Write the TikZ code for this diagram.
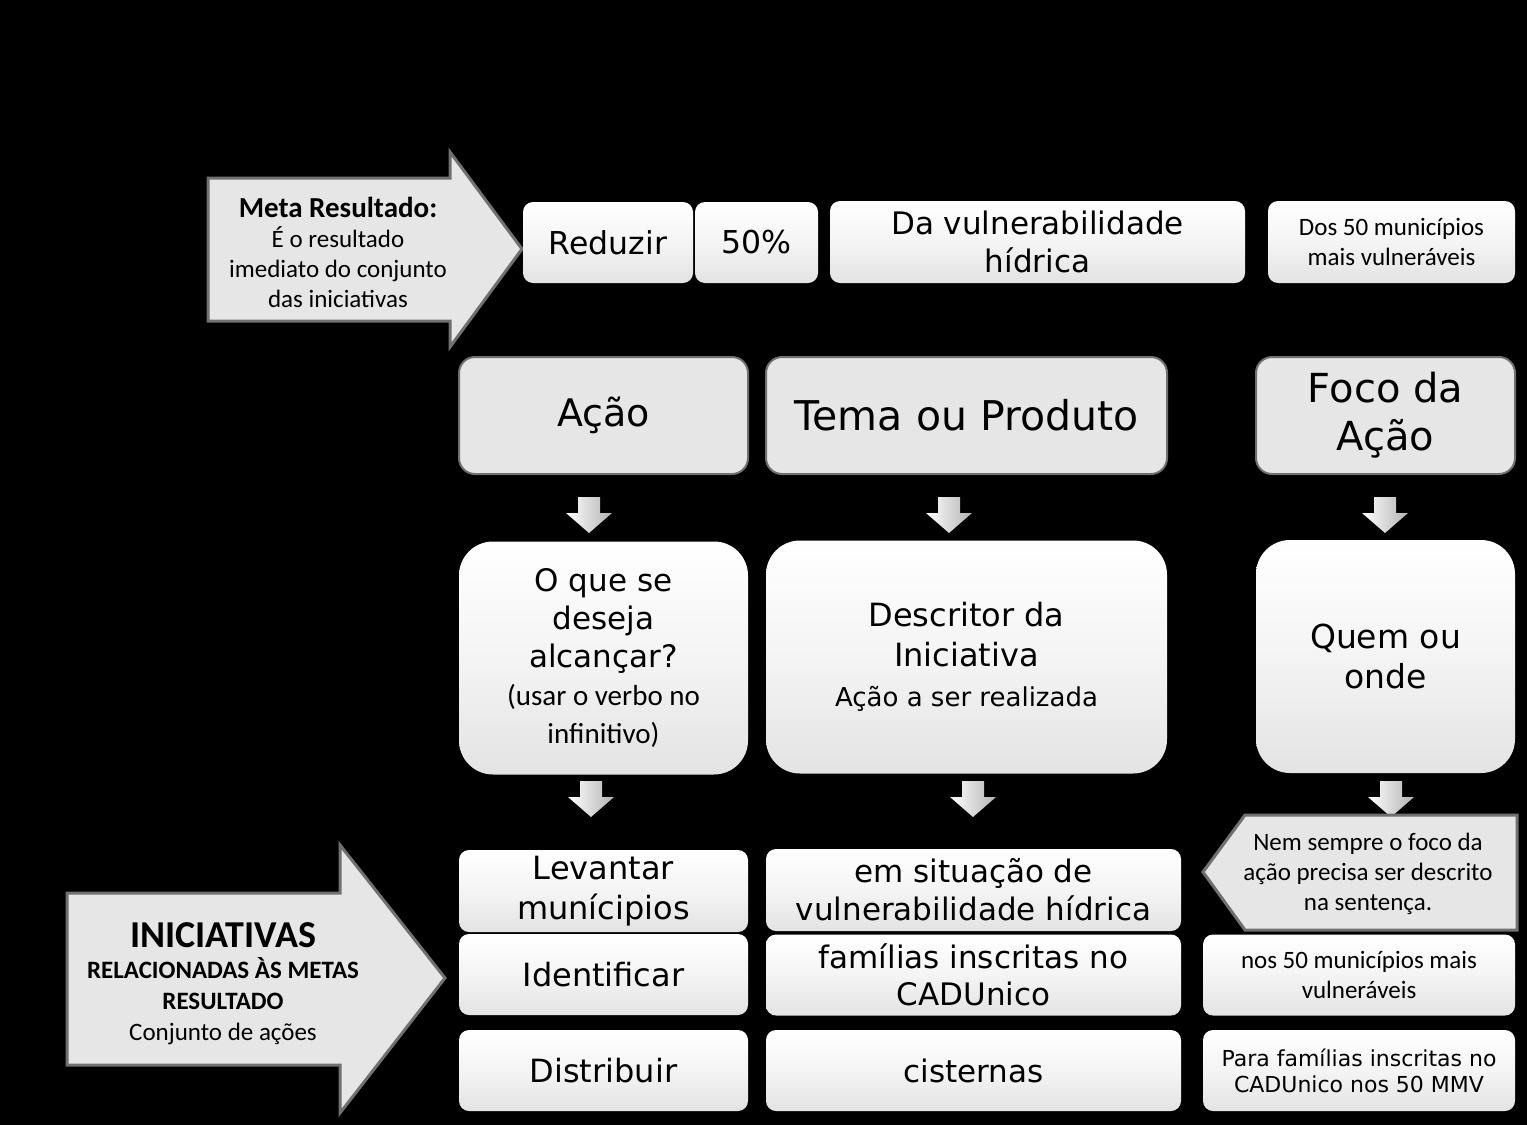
\documentclass[tikz,border=0pt]{standalone}
\usepackage{fontspec}
\setmainfont{DejaVu Sans}
\newfontfamily\calibri{Carlito}
\usetikzlibrary{positioning, calc}

\definecolor{boxfill}{HTML}{F4F4F4}
\definecolor{headfill}{HTML}{E6E6E6}
\definecolor{edgegray}{HTML}{707070}

\tikzset{
    cell/.style={rounded corners=5pt, top color=white, bottom color=black!11, middle color=boxfill,
        inner sep=2pt, align=center, text=black},
    bigcell/.style={cell, rounded corners=17pt},
    headcell/.style={rounded corners=8pt, fill=headfill, draw=edgegray, line width=1pt,
        inner sep=2pt, align=center},
    blockarrow/.style={fill=headfill, draw=edgegray, line width=1.5pt, line join=miter},
    downarrow/.style={left color=white, right color=black!30, draw=none},
}

\begin{document}
\begin{tikzpicture}[x=0.5pt, y=-0.5pt]
    % Fundo
    \fill[black] (0,0) rectangle (1527,1125);
    \useasboundingbox (0,0) rectangle (1527,1125);

    % Seta Meta Resultado
    \draw[blockarrow] (208,178) -- (450,178) -- (450,152) -- (522,249) -- (450,347)
        -- (450,321) -- (208,321) -- cycle;
    \node[align=center, font=\calibri\fontsize{12.5}{15}\selectfont] (meta) at (338,252)
        {\textbf{\fontsize{14.5}{15}\selectfont Meta Resultado:}\\É o resultado\\imediato do conjunto\\das iniciativas};

    % Linha da meta
    \node[cell, minimum width=85pt, minimum height=40.5pt, font=\fontsize{15.75}{19}\selectfont]
        (reduzir) at (608,242.5) {Reduzir};
    \node[cell, minimum width=61.5pt, minimum height=40.5pt, font=\fontsize{15.75}{19}\selectfont]
        (pct) at (756.5,242.5) {50\%};
    \node[cell, minimum width=207.5pt, minimum height=41pt, font=\fontsize{15.5}{19}\selectfont]
        (vuln) at (1037.5,242) {Da vulnerabilidade\\hídrica};
    \node[cell, minimum width=123.5pt, minimum height=41pt, font=\calibri\fontsize{12.5}{15}\selectfont]
        (dos) at (1391.5,242) {Dos 50 municípios\\mais vulneráveis};

    % Cabecalhos
    \node[headcell, minimum width=144.5pt, minimum height=58.5pt, font=\fontsize{19}{24}\selectfont]
        (acao) at (603.5,415.5) {Ação};
    \node[headcell, minimum width=200.5pt, minimum height=58.5pt, font=\fontsize{20.5}{24}\selectfont]
        (tema) at (966.5,415.5) {Tema ou Produto};
    \node[headcell, minimum width=129.5pt, minimum height=58.5pt, font=\fontsize{20}{24}\selectfont]
        (foco) at (1385.5,415.5) {Foco da\\Ação};

    % Descricoes
    \node[bigcell, minimum width=144.5pt, minimum height=116.5pt, font=\fontsize{15.5}{19}\selectfont]
        (oque) at (603.5,658) {O que se\\deseja\\alcançar?\\\calibri\fontsize{14.5}{17}\selectfont (usar o verbo no\\\calibri\fontsize{14.5}{17}\selectfont infinitivo)};
    \node[bigcell, minimum width=200.5pt, minimum height=116.5pt, font=\fontsize{16}{20}\selectfont]
        (descr) at (966.5,657) {Descritor da\\Iniciativa\\\fontsize{13}{17}\selectfont Ação a ser realizada};
    \node[bigcell, minimum width=129.5pt, minimum height=116.5pt, font=\fontsize{16.5}{20}\selectfont]
        (quem) at (1385.5,656.5) {Quem ou\\onde};

    % Setas para baixo
    \foreach \ax/\ay in {589/515, 949/515, 1385/515, 591/799, 973/799, 1391/799}
        \fill[downarrow, shift={(\ax,\ay)}] (-11,-18) -- (11,-18) -- (11,-2) -- (23,-2)
            -- (0,18) -- (-23,-2) -- (-11,-2) -- cycle;

    % Seta Iniciativas
    \draw[blockarrow] (67,893) -- (340,893) -- (340,845) -- (445,978) -- (340,1113)
        -- (340,1065) -- (67,1065) -- cycle;
    \node[align=center, font=\calibri\fontsize{12.5}{15.5}\selectfont] (inic) at (223,984)
        {\textbf{\fontsize{19}{18}\selectfont INICIATIVAS}\\\textbf{RELACIONADAS ÀS METAS}\\\textbf{RESULTADO}\\\fontsize{12.5}{15}\selectfont Conjunto de ações};

    % Nota
    \draw[blockarrow] (1203,872) -- (1245,815) -- (1517,815) -- (1517,930) -- (1245,930) -- cycle;
    \node[align=center, font=\calibri\fontsize{12.5}{15}\selectfont] (nem) at (1368,874)
        {Nem sempre o foco da\\ação precisa ser descrito\\na sentença.};

    % Iniciativas
    \node[cell, minimum width=144.5pt, minimum height=41pt, font=\fontsize{16}{20}\selectfont]
        (levantar) at (603.5,891) {Levantar\\munícipios};
    \node[cell, minimum width=207.5pt, minimum height=41pt, font=\fontsize{15.5}{19}\selectfont]
        (situacao) at (973.5,890) {em situação de\\vulnerabilidade hídrica};
    \node[cell, minimum width=144.5pt, minimum height=40.5pt, font=\fontsize{16}{20}\selectfont]
        (identificar) at (603.5,974.5) {Identificar};
    \node[cell, minimum width=207.5pt, minimum height=40.5pt, font=\fontsize{15.5}{18.5}\selectfont]
        (familias) at (973.5,975) {famílias inscritas no\\CADUnico};
    \node[cell, minimum width=156pt, minimum height=40.5pt, font=\calibri\fontsize{12.5}{15}\selectfont]
        (nos) at (1359,975) {nos 50 municípios mais\\vulneráveis};
    \node[cell, minimum width=144.5pt, minimum height=40.5pt, font=\fontsize{16}{20}\selectfont]
        (distribuir) at (603.5,1070.5) {Distribuir};
    \node[cell, minimum width=207.5pt, minimum height=40.5pt, font=\fontsize{15.5}{19}\selectfont]
        (cisternas) at (973.5,1070.5) {cisternas};
    \node[cell, minimum width=156pt, minimum height=40.5pt, font=\fontsize{11}{13}\selectfont]
        (para) at (1359,1070.5) {Para famílias inscritas no\\CADUnico nos 50 MMV};
\end{tikzpicture}
\end{document}
